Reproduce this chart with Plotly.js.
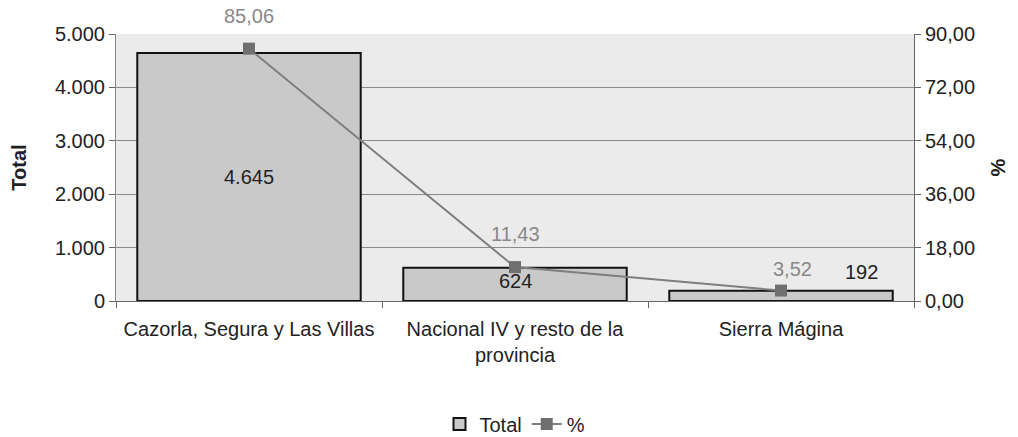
<!DOCTYPE html>
<html><head><meta charset="utf-8">
<script src="https://cdn.plot.ly/plotly-3.0.1.min.js"></script>
<style>html,body{margin:0;padding:0;background:#fff;}#chart{width:1018px;height:437px;}</style>
</head><body><div id="chart"></div>
<script>
const categories = ["Cazorla, Segura y Las Villas", "Nacional IV y resto de la<br>provincia", "Sierra Mágina"];
const totals = [4645, 624, 192];
const percents = [85.06, 11.43, 3.52];
const totalLabels = ["4.645", "624", "192"];
const percentLabels = ["85,06", "11,43", "3,52"];

const font = {family: "Liberation Sans, Arial, sans-serif", size: 20, color: "#222"};

const traces = [
  {type: "bar", name: "Total", x: categories, y: totals,
   marker: {color: "#c9c9c9", line: {color: "#111", width: 2}},
   width: 0.84, hoverinfo: "none"},
  {type: "scatter", mode: "lines+markers", name: "%", x: categories, y: percents, yaxis: "y2",
   line: {color: "#7f7f7f", width: 2}, marker: {symbol: "square", size: 12, color: "#6f6f6f"},
   hoverinfo: "none"}
];

const annotations = [];
const totShift = [[0, 0, "middle"], [0, 0, "top"], [80, 6, "bottom"]];
totals.forEach((v, i) => {
  const yy = i === 0 ? v / 2 : v;
  annotations.push({x: categories[i], y: yy, xref: "x", yref: "y", text: totalLabels[i],
    showarrow: false, font: font, xshift: totShift[i][0], yshift: totShift[i][1], yanchor: totShift[i][2]});
});
const pShift = [[0, 20], [0, 20], [11, 9]];
percents.forEach((v, i) => {
  annotations.push({x: categories[i], y: v, xref: "x", yref: "y2", text: percentLabels[i],
    showarrow: false, font: {family: font.family, size: 20, color: "#888"},
    xshift: pShift[i][0], yshift: pShift[i][1], yanchor: "bottom"});
});

const layout = {
  width: 1018, height: 437,
  margin: {l: 116, r: 104, t: 34, b: 136, autoexpand: false},
  paper_bgcolor: "#fff", plot_bgcolor: "#ebebeb",
  separators: ",.",
  font: font,
  showlegend: true,
  legend: {orientation: "h", x: 0.5, xanchor: "center", yref: "container", y: 0.03, yanchor: "middle",
    font: font, traceorder: "normal"},
  xaxis: {type: "category", tickson: "boundaries", ticks: "outside", ticklen: 6, tickcolor: "#666",
    ticklabelstandoff: 10, automargin: false,
    showgrid: false, showline: true, linecolor: "#666", linewidth: 1, tickfont: font, fixedrange: true},
  yaxis: {range: [0, 5000], dtick: 1000, tickformat: ",.0f", ticks: "outside", ticklen: 6, tickcolor: "#666",
    automargin: false,
    showline: true, linecolor: "#888", gridcolor: "#8a8a8a", gridwidth: 1, zeroline: false,
    tickfont: font, title: {text: "<b>Total</b>", font: font, standoff: 22}},
  yaxis2: {overlaying: "y", side: "right", range: [0, 90], dtick: 18, tickformat: ".2f", ticks: "outside",
    automargin: false,
    ticklen: 6, tickcolor: "#666", showline: true, linecolor: "#666", showgrid: false, zeroline: false,
    tickfont: font, title: {text: "<b>%</b>", font: font, standoff: 16}},
  annotations: annotations
};

Plotly.newPlot("chart", traces, layout, {staticPlot: true, displayModeBar: false});
</script>
</body></html>
